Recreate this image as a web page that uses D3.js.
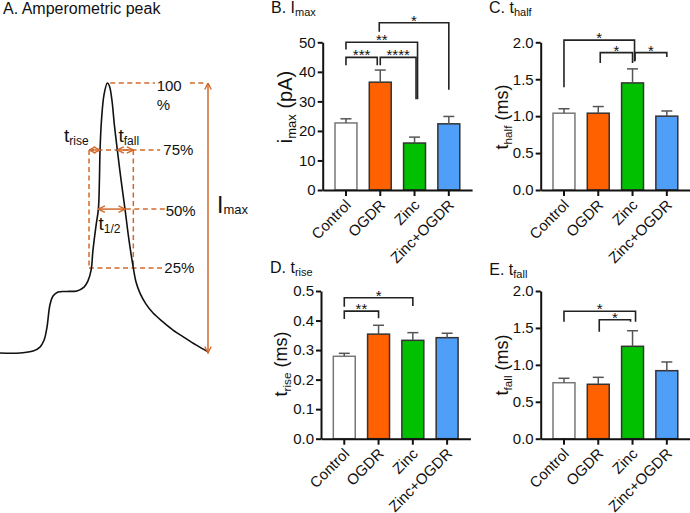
<!DOCTYPE html>
<html><head><meta charset="utf-8">
<script src="https://cdn.jsdelivr.net/npm/d3@7"></script>
<style>body{margin:0;background:#fff}svg{display:block;font-family:"Liberation Sans",Arial,sans-serif}</style>
</head><body><svg id="c" width="690" height="513"></svg>
<script>
// ---------- data ----------
const groups = ["Control", "OGDR", "Zinc", "Zinc+OGDR"];
const barColors = ["#ffffff", "#ff6000", "#00c000", "#4f9ef7"];
const barStrokes = ["#777777", "#333333", "#333333", "#333333"];

const imaxMean = [22.7, 36.5, 15.9, 22.4];
const imaxSem  = [1.4, 4.1, 2.0, 2.5];
const thalfMean = [1.04, 1.04, 1.45, 1.00];
const thalfSem  = [0.06, 0.09, 0.19, 0.07];
const triseMean = [0.279, 0.354, 0.333, 0.342];
const triseSem  = [0.010, 0.030, 0.026, 0.015];
const tfallMean = [0.758, 0.737, 1.251, 0.921];
const tfallSem  = [0.060, 0.094, 0.211, 0.118];

const imaxTicks = [0, 10, 20, 30, 40, 50];
const thalfTicks = [0, 0.5, 1.0, 1.5, 2.0];
const triseTicks = [0, 0.1, 0.2, 0.3, 0.4, 0.5];
const tfallTicks = [0, 0.5, 1.0, 1.5, 2.0];

// significance brackets: group a -> group b, bar height, leg ends
const imaxSig = [
  {a: 0, b: 1, top: 44.9, endA: 42.2, endB: 42.2, dA: 0, dB: -3, label: "***"},
  {a: 1, b: 2, top: 44.9, endA: 42.2, endB: 30.7, dA: 0, dB: 1.5, label: "****"},
  {a: 0, b: 2, top: 50.0, endA: 47.6, endB: 30.7, dA: 0, dB: 3, label: "**"},
  {a: 1, b: 3, top: 56.6, endA: 53.6, endB: 33.9, dA: -1, dB: 0, label: "*"}
];
const thalfSig = [
  {a: 0, b: 2, top: 2.03, endA: 1.39, endB: 1.74, dA: 0, dB: 2, label: "*"},
  {a: 1, b: 2, top: 1.86, endA: 1.72, endB: 1.72, dA: 2, dB: 0, label: "*"},
  {a: 2, b: 3, top: 1.86, endA: 1.75, endB: 1.80, dA: 2.5, dB: 0, label: "*"}
];
const triseSig = [
  {a: 0, b: 1, top: 0.432, endA: 0.405, endB: 0.408, dA: 0, dB: 0, label: "**"},
  {a: 0, b: 2, top: 0.477, endA: 0.447, endB: 0.449, dA: 0, dB: 0, label: "*"}
];
const tfallSig = [
  {a: 0, b: 2, top: 1.725, endA: 1.584, endB: 1.584, dA: 0, dB: 3, label: "*"},
  {a: 1, b: 2, top: 1.611, endA: 1.449, endB: 1.584, dA: 1, dB: -2, label: "*"}
];

// schematic amperometric spike: time (ms) and current (% of Imax)
const traceT = [0, 0.96, 1.59, 1.92, 2.12, 2.26, 2.40, 2.55, 2.79, 3.22, 3.70, 4.04, 4.23, 4.38, 4.47, 4.62, 4.73, 4.78, 4.81, 4.88, 5.00, 5.16, 5.26, 5.38, 5.50, 5.64, 5.82, 6.01, 6.20, 6.41, 6.54, 6.73, 7.02, 7.36, 7.84, 8.32, 8.89, 9.42, 10.0];
const traceI = [0, 0, 0.7, 2.2, 4.8, 9.6, 17.8, 21.1, 22.6, 22.8, 23.0, 24.4, 26.7, 30.7, 38.1, 47.4, 53.3, 64.1, 75.2, 86.3, 95.6, 100, 98.9, 93.7, 84.4, 75.2, 64.1, 53.3, 41.9, 31.5, 26.3, 22.2, 18.1, 14.8, 11.5, 8.5, 5.6, 3.0, 0.4];
const levelValues = [100, 75.2, 53.3, 31.5];
const levelLabels = ["100", "75%", "50%", "25%"];

// ---------- drawing ----------
const svg = d3.select("#c");
const FONT = '"Liberation Sans", Arial, sans-serif';
const ORANGE = "#d2692a";

function subText(g, x, y, main, sub, mainSize, subSize, subDy, after) {
  const t = g.append("text").attr("x", x).attr("y", y).attr("font-size", mainSize).attr("fill", "#111");
  t.append("tspan").text(main);
  t.append("tspan").attr("font-size", subSize).attr("dy", subDy).text(sub);
  if (after) t.append("tspan").attr("dy", -subDy).text(after);
  return t;
}

// ---- Panel A ----
(function () {
  const g = svg.append("g");
  g.append("text").attr("x", 3).attr("y", 14).attr("font-size", 16).attr("fill", "#111").text("A. Amperometric peak");
  const tx = d3.scaleLinear().domain([0, 10]).range([0, 208]);
  const iy = d3.scaleLinear().domain([0, 100]).range([353, 83]);
  const pts = traceT.map((t, k) => [t, traceI[k]]);

  const defs = svg.append("defs");
  defs.append("marker").attr("id", "ah").attr("viewBox", "0 0 8 8").attr("refX", 7.5).attr("refY", 4)
    .attr("markerWidth", 8).attr("markerHeight", 8).attr("markerUnits", "userSpaceOnUse")
    .attr("orient", "auto-start-reverse")
    .append("path").attr("d", "M1,0.8 L7.5,4 L1,7.2").attr("fill", "none").attr("stroke", ORANGE).attr("stroke-width", 1.4);

  const dash = (x1, y1, x2, y2) => g.append("line").attr("x1", x1).attr("y1", y1).attr("x2", x2).attr("y2", y2)
    .attr("stroke", ORANGE).attr("stroke-width", 1.5).attr("stroke-dasharray", "5,3.5");
  const arrow = (x1, y1, x2, y2) => g.append("line").attr("x1", x1).attr("y1", y1).attr("x2", x2).attr("y2", y2)
    .attr("stroke", ORANGE).attr("stroke-width", 1.5)
    .attr("marker-start", "url(#ah)").attr("marker-end", "url(#ah)");

  const tL = 4.28, tR = 6.41;
  // dashed lines
  dash(tx(5.3), iy(levelValues[0]), tx(7.45), iy(levelValues[0]));
  dash(tx(9.13), iy(levelValues[0]), tx(9.95), iy(levelValues[0]));
  dash(tx(tL), iy(levelValues[1]), tx(7.7), iy(levelValues[1]));
  dash(tx(6.05), iy(levelValues[2]), tx(7.93), iy(levelValues[2]));
  dash(tx(tL), iy(levelValues[3]), tx(7.8), iy(levelValues[3]));
  dash(tx(tL), iy(levelValues[1]), tx(tL), iy(levelValues[3]));
  dash(tx(tR), iy(levelValues[1]), tx(tR), iy(levelValues[3]));

  // trace
  g.append("path").datum(pts)
    .attr("d", d3.line().x(d => tx(d[0])).y(d => iy(d[1])).curve(d3.curveCatmullRom.alpha(0.5)))
    .attr("fill", "none").attr("stroke", "#111").attr("stroke-width", 1.6);

  // arrows
  arrow(tx(tL), iy(75.2), tx(4.81), iy(75.2));
  arrow(tx(5.64), iy(75.2), tx(tR), iy(75.2));
  arrow(tx(4.73), iy(53.3), tx(6.01), iy(53.3));
  arrow(tx(10), iy(100), tx(10), iy(0));

  // labels
  const lx = [156.7, 163.3, 165.7, 164.3];
  const lyOff = [7.5, 5.5, 6.5, 5.5];
  levelLabels.forEach((l, k) => g.append("text").attr("x", lx[k]).attr("y", iy(levelValues[k]) + lyOff[k])
    .attr("font-size", 15).attr("fill", "#111").text(l));
  g.append("text").attr("x", 156.7).attr("y", 110).attr("font-size", 15).attr("fill", "#111").text("%");

  subText(g, 64, 142, "t", "rise", 19, 12, 3);
  subText(g, 118.5, 142, "t", "fall", 19, 12, 3);
  subText(g, 98.5, 230, "t", "1/2", 19, 12, 3);
  subText(g, 217, 213, "I", "max", 23, 13, 1);
})();

// ---- bar panels ----
function barPanel(cfg) {
  const g = svg.append("g");
  const y = d3.scaleLinear().domain([0, cfg.max]).range([cfg.y0, cfg.yTop]);
  const x = d3.scaleBand().domain(groups).range([cfg.axisX, cfg.axisX + 149.4]).paddingInner(0.36).paddingOuter(0.359);
  const cx = i => x(groups[i]) + x.bandwidth() / 2;

  // title
  subText(g, cfg.titleX, cfg.titleY, cfg.title, cfg.titleSub, 16, 11, 3);

  // bars
  g.selectAll("rect.bar").data(cfg.mean).enter().append("rect")
    .attr("x", (d, i) => x(groups[i])).attr("y", d => y(d))
    .attr("width", x.bandwidth()).attr("height", d => cfg.y0 - y(d))
    .attr("fill", (d, i) => barColors[i]).attr("stroke", (d, i) => barStrokes[i]).attr("stroke-width", 1.5);

  // error bars (upper)
  cfg.mean.forEach((m, i) => {
    const top = y(m + cfg.sem[i]);
    g.append("line").attr("x1", cx(i)).attr("x2", cx(i)).attr("y1", y(m)).attr("y2", top)
      .attr("stroke", "#555").attr("stroke-width", 1.5);
    g.append("line").attr("x1", cx(i) - 5.5).attr("x2", cx(i) + 5.5).attr("y1", top).attr("y2", top)
      .attr("stroke", "#555").attr("stroke-width", 1.5);
  });

  // y axis
  const ya = g.append("g").attr("transform", `translate(${cfg.axisX},0)`)
    .call(d3.axisLeft(y).tickValues(cfg.ticks).tickFormat(cfg.fmt).tickSizeInner(5).tickSizeOuter(0).tickPadding(2));
  ya.select(".domain").attr("stroke", "#111").attr("stroke-width", 2);
  ya.selectAll(".tick line").attr("stroke", "#111").attr("stroke-width", 2);
  ya.selectAll(".tick text").attr("font-size", cfg.tickSize).attr("font-family", FONT).attr("fill", "#111");

  // x axis
  const xa = g.append("g").attr("transform", `translate(0,${cfg.y0})`)
    .call(d3.axisBottom(x).tickSizeInner(6).tickSizeOuter(0).tickPadding(3));
  xa.select(".domain").attr("stroke", "#111").attr("stroke-width", 2);
  xa.selectAll(".tick line").attr("stroke", "#111").attr("stroke-width", 2);
  xa.selectAll(".tick text").attr("font-size", 15).attr("font-family", FONT).attr("fill", "#111")
    .attr("text-anchor", "end").attr("dy", 0).attr("y", 0)
    .attr("transform", "translate(6,16) rotate(-45)");

  // y label
  const lab = g.append("text").attr("transform", `translate(${cfg.labX},${cfg.labY}) rotate(-90)`)
    .attr("text-anchor", "middle").attr("font-size", cfg.labSize).attr("fill", "#111");
  lab.append("tspan").text(cfg.labMain);
  lab.append("tspan").attr("font-size", cfg.labSize * 0.65).attr("dy", cfg.labSize * 0.2).text(cfg.labSub);
  lab.append("tspan").attr("dy", -cfg.labSize * 0.2).text(cfg.labAfter);

  // significance brackets
  cfg.sig.forEach(s => {
    const xa_ = cx(s.a) + s.dA, xb_ = cx(s.b) + s.dB;
    g.append("path")
      .attr("d", `M${xa_},${y(s.endA)} V${y(s.top)} H${xb_} V${y(s.endB)}`)
      .attr("fill", "none").attr("stroke", "#222").attr("stroke-width", 1.6);
    g.append("text").attr("x", (xa_ + xb_) / 2).attr("y", y(s.top) + 3)
      .attr("text-anchor", "middle").attr("font-size", 15).attr("fill", "#111").text(s.label);
  });
}

barPanel({axisX: 322.7, y0: 190, yTop: 42.3, max: 50, ticks: imaxTicks, fmt: d3.format("d"), tickSize: 15,
  mean: imaxMean, sem: imaxSem, sig: imaxSig, title: "B. I", titleSub: "max", titleX: 271, titleY: 13,
  labX: 292, labY: 107, labSize: 20, labMain: "i", labSub: "max", labAfter: " (pA)"});
barPanel({axisX: 540.7, y0: 190, yTop: 42.3, max: 2, ticks: thalfTicks, fmt: d3.format(".1f"), tickSize: 15,
  mean: thalfMean, sem: thalfSem, sig: thalfSig, title: "C. t", titleSub: "half", titleX: 489, titleY: 13,
  labX: 508, labY: 117, labSize: 18, labMain: "t", labSub: "half", labAfter: " (ms)"});
barPanel({axisX: 321, y0: 438.7, yTop: 291, max: 0.5, ticks: triseTicks, fmt: d3.format(".1f"), tickSize: 15,
  mean: triseMean, sem: triseSem, sig: triseSig, title: "D. t", titleSub: "rise", titleX: 270, titleY: 273,
  labX: 287, labY: 364, labSize: 18, labMain: "t", labSub: "rise", labAfter: " (ms)"});
barPanel({axisX: 540.7, y0: 438.7, yTop: 291, max: 2, ticks: tfallTicks, fmt: d3.format(".1f"), tickSize: 15,
  mean: tfallMean, sem: tfallSem, sig: tfallSig, title: "E. t", titleSub: "fall", titleX: 489.3, titleY: 275,
  labX: 508, labY: 365, labSize: 18, labMain: "t", labSub: "fall", labAfter: " (ms)"});
</script></body></html>
